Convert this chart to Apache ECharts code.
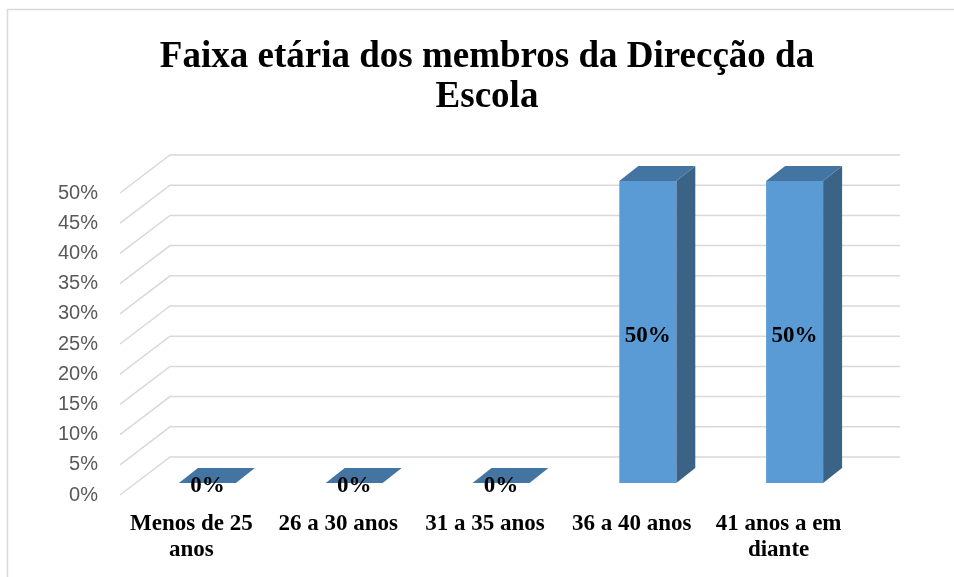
<!DOCTYPE html>
<html>
<head>
<meta charset="utf-8">
<script src="https://cdn.jsdelivr.net/npm/echarts@6/dist/echarts.min.js"></script>
<style>
  html, body { margin: 0; padding: 0; background: #fff; }
  #main { width: 954px; height: 577px; }
</style>
</head>
<body>
<div id="main"></div>
<script>
// dados do gráfico
var categorias = ['Menos de 25\nanos', '26 a 30 anos', '31 a 35 anos', '36 a 40 anos', '41 anos a em\ndiante'];
var percentagens = [0, 0, 0, 50, 50];
var ticksY = [0, 5, 10, 15, 20, 25, 30, 35, 40, 45, 50];

var myChart = echarts.init(document.getElementById('main'));

// profundidade da parede (pseudo 3D) e das barras
var PAREDE_DX = 50, PAREDE_DY = -38;
var BARRA_OFF_X = 16, BARRA_OFF_Y = -12;
var BARRA_DX = 19, BARRA_DY = -15, BARRA_W = 57;

function desenhaGrelha(params, api) {
    var cs = params.coordSys;
    var y = api.coord([0, api.value(0)])[1];
    var x0 = cs.x + 2;
    return {
        type: 'polyline',
        shape: { points: [[x0, y], [x0 + PAREDE_DX, y + PAREDE_DY], [cs.x + cs.width + 48, y + PAREDE_DY]] },
        style: { stroke: '#D9D9D9', lineWidth: 1.5, fill: null },
        silent: true
    };
}

function desenhaBarra(params, api) {
    var i = api.value(0), v = api.value(1);
    var base = api.coord([i, 0]);
    var topo = api.coord([i, v]);
    var xl = base[0] + BARRA_OFF_X - BARRA_W / 2;
    var xr = xl + BARRA_W;
    var yb = base[1] + BARRA_OFF_Y;
    var yt = topo[1] + BARRA_OFF_Y;
    var filhos = [];
    if (v > 0) {
        filhos.push({
            type: 'polygon',
            shape: { points: [[xr, yt], [xr + BARRA_DX, yt + BARRA_DY], [xr + BARRA_DX, yb + BARRA_DY], [xr, yb]] },
            style: { fill: '#3B6386' }
        });
        filhos.push({
            type: 'rect',
            shape: { x: xl, y: yt, width: BARRA_W, height: yb - yt },
            style: { fill: '#5B9BD5' }
        });
    }
    filhos.push({
        type: 'polygon',
        shape: { points: [[xl, yt], [xl + BARRA_DX, yt + BARRA_DY], [xr + BARRA_DX, yt + BARRA_DY], [xr, yt]] },
        style: { fill: '#4474A2' }
    });
    var ty = v > 0 ? (yt + yb) / 2 + 4 : yb + 3;
    filhos.push({
        type: 'text',
        x: (xl + xr) / 2,
        y: ty,
        style: {
            text: v + '%',
            fill: '#000',
            font: 'bold 23px "Liberation Serif"',
            align: 'center',
            verticalAlign: 'middle'
        },
        z2: 10
    });
    return { type: 'group', children: filhos };
}

var option = {
    animation: false,
    graphic: [
        {
            type: 'rect',
            shape: { x: 7.5, y: 9.5, width: 1000, height: 700 },
            style: { fill: null, stroke: '#D9D9D9', lineWidth: 1.5 },
            silent: true
        },
        {
            type: 'text',
            x: 487,
            y: 37,
            style: {
                text: 'Faixa etária dos membros da Direcção da\nEscola',
                font: 'bold 37px "Liberation Serif"',
                lineHeight: 40,
                align: 'center',
                fill: '#000'
            }
        }
    ],
    grid: {
        left: 118,
        right: 102,
        top: 193,
        bottom: 82
    },
    xAxis: {
        type: 'category',
        data: categorias,
        axisLine: { show: false },
        axisTick: { show: false },
        axisLabel: {
            interval: 0,
            hideOverlap: false,
            margin: 16,
            color: '#000',
            fontFamily: 'Liberation Serif',
            fontWeight: 'bold',
            fontSize: 23,
            lineHeight: 26
        }
    },
    yAxis: {
        type: 'value',
        min: 0,
        max: 50,
        interval: 5,
        axisLine: { show: false },
        axisTick: { show: false },
        splitLine: { show: false },
        axisLabel: {
            margin: 20,
            formatter: '{value}%',
            color: '#595959',
            fontFamily: 'Liberation Sans',
            fontSize: 20
        }
    },
    series: [
        {
            type: 'custom',
            renderItem: desenhaGrelha,
            data: ticksY,
            encode: { y: 0 },
            silent: true,
            z: 1
        },
        {
            type: 'custom',
            renderItem: desenhaBarra,
            data: percentagens.map(function (v, i) { return [i, v]; }),
            encode: { x: 0, y: 1 },
            z: 2
        }
    ]
};

myChart.setOption(option);
</script>
</body>
</html>
